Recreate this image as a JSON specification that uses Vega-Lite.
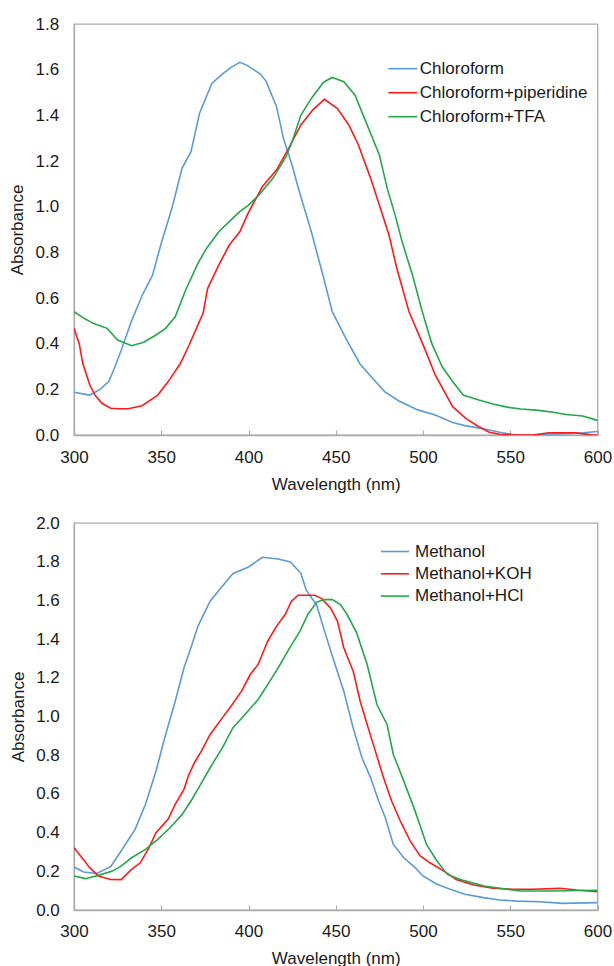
{
  "$schema": "https://vega.github.io/schema/vega-lite/v6.json",
  "background": "white",
  "padding": {"left": 7, "top": 14, "right": 0, "bottom": 0},
  "spacing": 19,
  "columns": 1,
  "datasets": {
    "chloro": [
      {"series": "Chloroform", "wavelength": 300, "absorbance": 0.187},
      {"series": "Chloroform", "wavelength": 305, "absorbance": 0.18},
      {"series": "Chloroform", "wavelength": 309, "absorbance": 0.175},
      {"series": "Chloroform", "wavelength": 315, "absorbance": 0.2},
      {"series": "Chloroform", "wavelength": 320, "absorbance": 0.235},
      {"series": "Chloroform", "wavelength": 323, "absorbance": 0.29},
      {"series": "Chloroform", "wavelength": 327, "absorbance": 0.37},
      {"series": "Chloroform", "wavelength": 333, "absorbance": 0.5},
      {"series": "Chloroform", "wavelength": 339, "absorbance": 0.61},
      {"series": "Chloroform", "wavelength": 345, "absorbance": 0.7},
      {"series": "Chloroform", "wavelength": 350, "absorbance": 0.84},
      {"series": "Chloroform", "wavelength": 356, "absorbance": 0.99},
      {"series": "Chloroform", "wavelength": 362, "absorbance": 1.17},
      {"series": "Chloroform", "wavelength": 367, "absorbance": 1.24},
      {"series": "Chloroform", "wavelength": 372, "absorbance": 1.41},
      {"series": "Chloroform", "wavelength": 379, "absorbance": 1.54},
      {"series": "Chloroform", "wavelength": 385, "absorbance": 1.58},
      {"series": "Chloroform", "wavelength": 390, "absorbance": 1.61},
      {"series": "Chloroform", "wavelength": 395, "absorbance": 1.632},
      {"series": "Chloroform", "wavelength": 399, "absorbance": 1.62},
      {"series": "Chloroform", "wavelength": 403, "absorbance": 1.6},
      {"series": "Chloroform", "wavelength": 407, "absorbance": 1.58},
      {"series": "Chloroform", "wavelength": 410, "absorbance": 1.55},
      {"series": "Chloroform", "wavelength": 416, "absorbance": 1.44},
      {"series": "Chloroform", "wavelength": 420, "absorbance": 1.3},
      {"series": "Chloroform", "wavelength": 425, "absorbance": 1.18},
      {"series": "Chloroform", "wavelength": 429, "absorbance": 1.07},
      {"series": "Chloroform", "wavelength": 436, "absorbance": 0.89},
      {"series": "Chloroform", "wavelength": 443, "absorbance": 0.69},
      {"series": "Chloroform", "wavelength": 448, "absorbance": 0.54},
      {"series": "Chloroform", "wavelength": 456, "absorbance": 0.42},
      {"series": "Chloroform", "wavelength": 464, "absorbance": 0.31},
      {"series": "Chloroform", "wavelength": 471, "absorbance": 0.25},
      {"series": "Chloroform", "wavelength": 478, "absorbance": 0.19},
      {"series": "Chloroform", "wavelength": 486, "absorbance": 0.15},
      {"series": "Chloroform", "wavelength": 497, "absorbance": 0.11},
      {"series": "Chloroform", "wavelength": 507, "absorbance": 0.088},
      {"series": "Chloroform", "wavelength": 517, "absorbance": 0.055},
      {"series": "Chloroform", "wavelength": 524, "absorbance": 0.041},
      {"series": "Chloroform", "wavelength": 536, "absorbance": 0.025},
      {"series": "Chloroform", "wavelength": 544, "absorbance": 0.012},
      {"series": "Chloroform", "wavelength": 551, "absorbance": 0.003},
      {"series": "Chloroform", "wavelength": 556, "absorbance": 0.0},
      {"series": "Chloroform", "wavelength": 563, "absorbance": 0.0},
      {"series": "Chloroform", "wavelength": 572, "absorbance": 0.004},
      {"series": "Chloroform", "wavelength": 582, "absorbance": 0.006},
      {"series": "Chloroform", "wavelength": 592, "absorbance": 0.01},
      {"series": "Chloroform", "wavelength": 600, "absorbance": 0.015},

      {"series": "Chloroform+piperidine", "wavelength": 300, "absorbance": 0.467},
      {"series": "Chloroform+piperidine", "wavelength": 303, "absorbance": 0.4},
      {"series": "Chloroform+piperidine", "wavelength": 305, "absorbance": 0.314},
      {"series": "Chloroform+piperidine", "wavelength": 309, "absorbance": 0.22},
      {"series": "Chloroform+piperidine", "wavelength": 312, "absorbance": 0.175},
      {"series": "Chloroform+piperidine", "wavelength": 316, "absorbance": 0.139},
      {"series": "Chloroform+piperidine", "wavelength": 321, "absorbance": 0.117},
      {"series": "Chloroform+piperidine", "wavelength": 326, "absorbance": 0.115},
      {"series": "Chloroform+piperidine", "wavelength": 331, "absorbance": 0.115},
      {"series": "Chloroform+piperidine", "wavelength": 339, "absorbance": 0.128},
      {"series": "Chloroform+piperidine", "wavelength": 348, "absorbance": 0.175},
      {"series": "Chloroform+piperidine", "wavelength": 354, "absorbance": 0.234},
      {"series": "Chloroform+piperidine", "wavelength": 361, "absorbance": 0.314},
      {"series": "Chloroform+piperidine", "wavelength": 366, "absorbance": 0.394},
      {"series": "Chloroform+piperidine", "wavelength": 371, "absorbance": 0.482},
      {"series": "Chloroform+piperidine", "wavelength": 374, "absorbance": 0.533},
      {"series": "Chloroform+piperidine", "wavelength": 376.5, "absorbance": 0.64},
      {"series": "Chloroform+piperidine", "wavelength": 383, "absorbance": 0.745},
      {"series": "Chloroform+piperidine", "wavelength": 389, "absorbance": 0.832},
      {"series": "Chloroform+piperidine", "wavelength": 395, "absorbance": 0.89},
      {"series": "Chloroform+piperidine", "wavelength": 400, "absorbance": 0.975},
      {"series": "Chloroform+piperidine", "wavelength": 408, "absorbance": 1.088},
      {"series": "Chloroform+piperidine", "wavelength": 416, "absorbance": 1.16},
      {"series": "Chloroform+piperidine", "wavelength": 423, "absorbance": 1.255},
      {"series": "Chloroform+piperidine", "wavelength": 430, "absorbance": 1.358},
      {"series": "Chloroform+piperidine", "wavelength": 437, "absorbance": 1.425},
      {"series": "Chloroform+piperidine", "wavelength": 443.5, "absorbance": 1.47},
      {"series": "Chloroform+piperidine", "wavelength": 451, "absorbance": 1.43},
      {"series": "Chloroform+piperidine", "wavelength": 457.5, "absorbance": 1.358},
      {"series": "Chloroform+piperidine", "wavelength": 463, "absorbance": 1.27},
      {"series": "Chloroform+piperidine", "wavelength": 470, "absorbance": 1.124},
      {"series": "Chloroform+piperidine", "wavelength": 475, "absorbance": 1.007},
      {"series": "Chloroform+piperidine", "wavelength": 480.5, "absorbance": 0.876},
      {"series": "Chloroform+piperidine", "wavelength": 485, "absorbance": 0.73},
      {"series": "Chloroform+piperidine", "wavelength": 492, "absorbance": 0.54},
      {"series": "Chloroform+piperidine", "wavelength": 500.5, "absorbance": 0.387},
      {"series": "Chloroform+piperidine", "wavelength": 507, "absorbance": 0.263},
      {"series": "Chloroform+piperidine", "wavelength": 517, "absorbance": 0.124},
      {"series": "Chloroform+piperidine", "wavelength": 524.5, "absorbance": 0.073},
      {"series": "Chloroform+piperidine", "wavelength": 532, "absorbance": 0.036},
      {"series": "Chloroform+piperidine", "wavelength": 538, "absorbance": 0.012},
      {"series": "Chloroform+piperidine", "wavelength": 544, "absorbance": 0.003},
      {"series": "Chloroform+piperidine", "wavelength": 551, "absorbance": 0.0},
      {"series": "Chloroform+piperidine", "wavelength": 563, "absorbance": 0.0},
      {"series": "Chloroform+piperidine", "wavelength": 572, "absorbance": 0.01},
      {"series": "Chloroform+piperidine", "wavelength": 587, "absorbance": 0.01},
      {"series": "Chloroform+piperidine", "wavelength": 593.5, "absorbance": 0.004},
      {"series": "Chloroform+piperidine", "wavelength": 597, "absorbance": 0.0},
      {"series": "Chloroform+piperidine", "wavelength": 600, "absorbance": 0.0},

      {"series": "Chloroform+TFA", "wavelength": 300, "absorbance": 0.54},
      {"series": "Chloroform+TFA", "wavelength": 306, "absorbance": 0.51},
      {"series": "Chloroform+TFA", "wavelength": 311, "absorbance": 0.489},
      {"series": "Chloroform+TFA", "wavelength": 319, "absorbance": 0.467},
      {"series": "Chloroform+TFA", "wavelength": 325, "absorbance": 0.416},
      {"series": "Chloroform+TFA", "wavelength": 333, "absorbance": 0.391},
      {"series": "Chloroform+TFA", "wavelength": 340, "absorbance": 0.406},
      {"series": "Chloroform+TFA", "wavelength": 347, "absorbance": 0.438},
      {"series": "Chloroform+TFA", "wavelength": 352.5, "absorbance": 0.467},
      {"series": "Chloroform+TFA", "wavelength": 358, "absorbance": 0.518},
      {"series": "Chloroform+TFA", "wavelength": 364, "absorbance": 0.635},
      {"series": "Chloroform+TFA", "wavelength": 371, "absorbance": 0.752},
      {"series": "Chloroform+TFA", "wavelength": 376, "absorbance": 0.818},
      {"series": "Chloroform+TFA", "wavelength": 383, "absorbance": 0.89},
      {"series": "Chloroform+TFA", "wavelength": 390, "absorbance": 0.942},
      {"series": "Chloroform+TFA", "wavelength": 395, "absorbance": 0.978},
      {"series": "Chloroform+TFA", "wavelength": 400, "absorbance": 1.007},
      {"series": "Chloroform+TFA", "wavelength": 406, "absorbance": 1.051},
      {"series": "Chloroform+TFA", "wavelength": 414, "absorbance": 1.124},
      {"series": "Chloroform+TFA", "wavelength": 421.5, "absorbance": 1.219},
      {"series": "Chloroform+TFA", "wavelength": 425, "absorbance": 1.285},
      {"series": "Chloroform+TFA", "wavelength": 430, "absorbance": 1.4},
      {"series": "Chloroform+TFA", "wavelength": 436, "absorbance": 1.474},
      {"series": "Chloroform+TFA", "wavelength": 443, "absorbance": 1.545},
      {"series": "Chloroform+TFA", "wavelength": 448, "absorbance": 1.566},
      {"series": "Chloroform+TFA", "wavelength": 454.6, "absorbance": 1.547},
      {"series": "Chloroform+TFA", "wavelength": 461, "absorbance": 1.489},
      {"series": "Chloroform+TFA", "wavelength": 468, "absorbance": 1.358},
      {"series": "Chloroform+TFA", "wavelength": 475, "absorbance": 1.226},
      {"series": "Chloroform+TFA", "wavelength": 479.5, "absorbance": 1.08},
      {"series": "Chloroform+TFA", "wavelength": 484, "absorbance": 0.964},
      {"series": "Chloroform+TFA", "wavelength": 488, "absorbance": 0.847},
      {"series": "Chloroform+TFA", "wavelength": 494, "absorbance": 0.7},
      {"series": "Chloroform+TFA", "wavelength": 499.6, "absorbance": 0.54},
      {"series": "Chloroform+TFA", "wavelength": 505, "absorbance": 0.401},
      {"series": "Chloroform+TFA", "wavelength": 511, "absorbance": 0.299},
      {"series": "Chloroform+TFA", "wavelength": 517, "absorbance": 0.234},
      {"series": "Chloroform+TFA", "wavelength": 523, "absorbance": 0.175},
      {"series": "Chloroform+TFA", "wavelength": 532, "absorbance": 0.153},
      {"series": "Chloroform+TFA", "wavelength": 540, "absorbance": 0.136},
      {"series": "Chloroform+TFA", "wavelength": 549, "absorbance": 0.121},
      {"series": "Chloroform+TFA", "wavelength": 556, "absorbance": 0.114},
      {"series": "Chloroform+TFA", "wavelength": 565, "absorbance": 0.109},
      {"series": "Chloroform+TFA", "wavelength": 574.5, "absorbance": 0.1},
      {"series": "Chloroform+TFA", "wavelength": 582, "absorbance": 0.09},
      {"series": "Chloroform+TFA", "wavelength": 591.6, "absorbance": 0.083},
      {"series": "Chloroform+TFA", "wavelength": 600, "absorbance": 0.064}
    ],
    "meth": [
      {"series": "Methanol", "wavelength": 300, "absorbance": 0.222},
      {"series": "Methanol", "wavelength": 305.5, "absorbance": 0.196},
      {"series": "Methanol", "wavelength": 313, "absorbance": 0.189},
      {"series": "Methanol", "wavelength": 321, "absorbance": 0.224},
      {"series": "Methanol", "wavelength": 327, "absorbance": 0.305},
      {"series": "Methanol", "wavelength": 335, "absorbance": 0.417},
      {"series": "Methanol", "wavelength": 341, "absorbance": 0.546},
      {"series": "Methanol", "wavelength": 347, "absorbance": 0.718},
      {"series": "Methanol", "wavelength": 352, "absorbance": 0.89},
      {"series": "Methanol", "wavelength": 358, "absorbance": 1.079},
      {"series": "Methanol", "wavelength": 363, "absorbance": 1.251},
      {"series": "Methanol", "wavelength": 367, "absorbance": 1.355},
      {"series": "Methanol", "wavelength": 371, "absorbance": 1.466},
      {"series": "Methanol", "wavelength": 378, "absorbance": 1.596},
      {"series": "Methanol", "wavelength": 385, "absorbance": 1.673},
      {"series": "Methanol", "wavelength": 391, "absorbance": 1.738},
      {"series": "Methanol", "wavelength": 400, "absorbance": 1.773},
      {"series": "Methanol", "wavelength": 408, "absorbance": 1.823},
      {"series": "Methanol", "wavelength": 417, "absorbance": 1.814},
      {"series": "Methanol", "wavelength": 424, "absorbance": 1.799},
      {"series": "Methanol", "wavelength": 430, "absorbance": 1.74},
      {"series": "Methanol", "wavelength": 433, "absorbance": 1.656},
      {"series": "Methanol", "wavelength": 435.5, "absorbance": 1.621},
      {"series": "Methanol", "wavelength": 439, "absorbance": 1.578},
      {"series": "Methanol", "wavelength": 443, "absorbance": 1.458},
      {"series": "Methanol", "wavelength": 449, "absorbance": 1.286},
      {"series": "Methanol", "wavelength": 454.6, "absorbance": 1.131},
      {"series": "Methanol", "wavelength": 460, "absorbance": 0.941},
      {"series": "Methanol", "wavelength": 465, "absorbance": 0.787},
      {"series": "Methanol", "wavelength": 470, "absorbance": 0.683},
      {"series": "Methanol", "wavelength": 474.6, "absorbance": 0.563},
      {"series": "Methanol", "wavelength": 478.4, "absorbance": 0.477},
      {"series": "Methanol", "wavelength": 483, "absorbance": 0.339},
      {"series": "Methanol", "wavelength": 489, "absorbance": 0.27},
      {"series": "Methanol", "wavelength": 495.5, "absorbance": 0.219},
      {"series": "Methanol", "wavelength": 500, "absorbance": 0.176},
      {"series": "Methanol", "wavelength": 508, "absorbance": 0.133},
      {"series": "Methanol", "wavelength": 515.6, "absorbance": 0.107},
      {"series": "Methanol", "wavelength": 524, "absorbance": 0.081},
      {"series": "Methanol", "wavelength": 534.6, "absorbance": 0.064},
      {"series": "Methanol", "wavelength": 544, "absorbance": 0.052},
      {"series": "Methanol", "wavelength": 554, "absorbance": 0.046},
      {"series": "Methanol", "wavelength": 567, "absorbance": 0.043},
      {"series": "Methanol", "wavelength": 580, "absorbance": 0.034},
      {"series": "Methanol", "wavelength": 600, "absorbance": 0.038},

      {"series": "Methanol+KOH", "wavelength": 300, "absorbance": 0.322},
      {"series": "Methanol+KOH", "wavelength": 304.6, "absorbance": 0.27},
      {"series": "Methanol+KOH", "wavelength": 309, "absorbance": 0.219},
      {"series": "Methanol+KOH", "wavelength": 314, "absorbance": 0.176},
      {"series": "Methanol+KOH", "wavelength": 321, "absorbance": 0.158},
      {"series": "Methanol+KOH", "wavelength": 327, "absorbance": 0.157},
      {"series": "Methanol+KOH", "wavelength": 333, "absorbance": 0.21},
      {"series": "Methanol+KOH", "wavelength": 338, "absorbance": 0.244},
      {"series": "Methanol+KOH", "wavelength": 343, "absorbance": 0.322},
      {"series": "Methanol+KOH", "wavelength": 347, "absorbance": 0.4},
      {"series": "Methanol+KOH", "wavelength": 351, "absorbance": 0.44},
      {"series": "Methanol+KOH", "wavelength": 354, "absorbance": 0.47},
      {"series": "Methanol+KOH", "wavelength": 358, "absorbance": 0.546},
      {"series": "Methanol+KOH", "wavelength": 363, "absorbance": 0.623},
      {"series": "Methanol+KOH", "wavelength": 365.5, "absorbance": 0.692},
      {"series": "Methanol+KOH", "wavelength": 369, "absorbance": 0.761},
      {"series": "Methanol+KOH", "wavelength": 373, "absorbance": 0.821},
      {"series": "Methanol+KOH", "wavelength": 378, "absorbance": 0.907},
      {"series": "Methanol+KOH", "wavelength": 385, "absorbance": 0.993},
      {"series": "Methanol+KOH", "wavelength": 390, "absorbance": 1.053},
      {"series": "Methanol+KOH", "wavelength": 396, "absorbance": 1.131},
      {"series": "Methanol+KOH", "wavelength": 401, "absorbance": 1.217},
      {"series": "Methanol+KOH", "wavelength": 405.5, "absorbance": 1.269},
      {"series": "Methanol+KOH", "wavelength": 411, "absorbance": 1.389},
      {"series": "Methanol+KOH", "wavelength": 416, "absorbance": 1.466},
      {"series": "Methanol+KOH", "wavelength": 421, "absorbance": 1.527},
      {"series": "Methanol+KOH", "wavelength": 424.6, "absorbance": 1.596},
      {"series": "Methanol+KOH", "wavelength": 428.4, "absorbance": 1.627},
      {"series": "Methanol+KOH", "wavelength": 438, "absorbance": 1.627},
      {"series": "Methanol+KOH", "wavelength": 442, "absorbance": 1.609},
      {"series": "Methanol+KOH", "wavelength": 447, "absorbance": 1.561},
      {"series": "Methanol+KOH", "wavelength": 451, "absorbance": 1.492},
      {"series": "Methanol+KOH", "wavelength": 454.6, "absorbance": 1.355},
      {"series": "Methanol+KOH", "wavelength": 460, "absorbance": 1.234},
      {"series": "Methanol+KOH", "wavelength": 464, "absorbance": 1.079},
      {"series": "Methanol+KOH", "wavelength": 468, "absorbance": 0.959},
      {"series": "Methanol+KOH", "wavelength": 472.7, "absorbance": 0.821},
      {"series": "Methanol+KOH", "wavelength": 477.4, "absorbance": 0.683},
      {"series": "Methanol+KOH", "wavelength": 482, "absorbance": 0.563},
      {"series": "Methanol+KOH", "wavelength": 487, "absorbance": 0.46},
      {"series": "Methanol+KOH", "wavelength": 492.7, "absorbance": 0.356},
      {"series": "Methanol+KOH", "wavelength": 498.4, "absorbance": 0.279},
      {"series": "Methanol+KOH", "wavelength": 504, "absorbance": 0.244},
      {"series": "Methanol+KOH", "wavelength": 512, "absorbance": 0.201},
      {"series": "Methanol+KOH", "wavelength": 519, "absorbance": 0.158},
      {"series": "Methanol+KOH", "wavelength": 529, "absorbance": 0.129},
      {"series": "Methanol+KOH", "wavelength": 540, "absorbance": 0.112},
      {"series": "Methanol+KOH", "wavelength": 552, "absorbance": 0.107},
      {"series": "Methanol+KOH", "wavelength": 563, "absorbance": 0.107},
      {"series": "Methanol+KOH", "wavelength": 578.5, "absorbance": 0.112},
      {"series": "Methanol+KOH", "wavelength": 588, "absorbance": 0.103},
      {"series": "Methanol+KOH", "wavelength": 600, "absorbance": 0.095},

      {"series": "Methanol+HCl", "wavelength": 300, "absorbance": 0.176},
      {"series": "Methanol+HCl", "wavelength": 306.5, "absorbance": 0.162},
      {"series": "Methanol+HCl", "wavelength": 314, "absorbance": 0.179},
      {"series": "Methanol+HCl", "wavelength": 322, "absorbance": 0.201},
      {"series": "Methanol+HCl", "wavelength": 327, "absorbance": 0.227},
      {"series": "Methanol+HCl", "wavelength": 333, "absorbance": 0.27},
      {"series": "Methanol+HCl", "wavelength": 341, "absorbance": 0.313},
      {"series": "Methanol+HCl", "wavelength": 348, "absorbance": 0.365},
      {"series": "Methanol+HCl", "wavelength": 355, "absorbance": 0.425},
      {"series": "Methanol+HCl", "wavelength": 362, "absorbance": 0.494},
      {"series": "Methanol+HCl", "wavelength": 367, "absorbance": 0.563},
      {"series": "Methanol+HCl", "wavelength": 372, "absorbance": 0.64},
      {"series": "Methanol+HCl", "wavelength": 378, "absorbance": 0.735},
      {"series": "Methanol+HCl", "wavelength": 385, "absorbance": 0.838},
      {"series": "Methanol+HCl", "wavelength": 391, "absorbance": 0.941},
      {"series": "Methanol+HCl", "wavelength": 398, "absorbance": 1.01},
      {"series": "Methanol+HCl", "wavelength": 405.5, "absorbance": 1.088},
      {"series": "Methanol+HCl", "wavelength": 411, "absorbance": 1.165},
      {"series": "Methanol+HCl", "wavelength": 417, "absorbance": 1.251},
      {"series": "Methanol+HCl", "wavelength": 423, "absorbance": 1.346},
      {"series": "Methanol+HCl", "wavelength": 429.5, "absorbance": 1.441},
      {"series": "Methanol+HCl", "wavelength": 434, "absorbance": 1.527},
      {"series": "Methanol+HCl", "wavelength": 439, "absorbance": 1.59},
      {"series": "Methanol+HCl", "wavelength": 443, "absorbance": 1.604},
      {"series": "Methanol+HCl", "wavelength": 448, "absorbance": 1.604},
      {"series": "Methanol+HCl", "wavelength": 452.7, "absorbance": 1.578},
      {"series": "Methanol+HCl", "wavelength": 456.5, "absorbance": 1.527},
      {"series": "Methanol+HCl", "wavelength": 462, "absorbance": 1.432},
      {"series": "Methanol+HCl", "wavelength": 468, "absorbance": 1.269},
      {"series": "Methanol+HCl", "wavelength": 473.6, "absorbance": 1.062},
      {"series": "Methanol+HCl", "wavelength": 479.4, "absorbance": 0.959},
      {"series": "Methanol+HCl", "wavelength": 483, "absorbance": 0.804},
      {"series": "Methanol+HCl", "wavelength": 489, "absorbance": 0.666},
      {"series": "Methanol+HCl", "wavelength": 495.5, "absorbance": 0.511},
      {"series": "Methanol+HCl", "wavelength": 502, "absorbance": 0.339},
      {"series": "Methanol+HCl", "wavelength": 508, "absorbance": 0.253},
      {"series": "Methanol+HCl", "wavelength": 514, "absorbance": 0.184},
      {"series": "Methanol+HCl", "wavelength": 523, "absorbance": 0.153},
      {"series": "Methanol+HCl", "wavelength": 535, "absorbance": 0.124},
      {"series": "Methanol+HCl", "wavelength": 544, "absorbance": 0.112},
      {"series": "Methanol+HCl", "wavelength": 556, "absorbance": 0.098},
      {"series": "Methanol+HCl", "wavelength": 573, "absorbance": 0.098},
      {"series": "Methanol+HCl", "wavelength": 600, "absorbance": 0.102}
    ]
  },
  "resolve": {"scale": {"color": "independent", "x": "independent", "y": "independent"}, "legend": {"color": "independent"}},
  "concat": [
    {
      "width": 523.5,
      "height": 411,
      "data": {"name": "chloro"},
      "mark": {"type": "line", "strokeWidth": 1.6, "clip": true},
      "encoding": {
        "x": {"field": "wavelength", "type": "quantitative", "title": "Wavelength (nm)",
              "scale": {"domain": [300, 600], "nice": false, "zero": false},
              "axis": {"values": [300, 350, 400, 450, 500, 550, 600], "format": "d", "ticks": true, "tickSize": -5, "labelPadding": 19.4, "titlePadding": 11, "labelFlush": false}},
        "y": {"field": "absorbance", "type": "quantitative", "title": "Absorbance",
              "scale": {"domain": [0, 1.8], "nice": false},
              "axis": {"values": [0, 0.2, 0.4, 0.6, 0.8, 1.0, 1.2, 1.4, 1.6, 1.8], "format": ".1f", "ticks": false, "labelPadding": 15.3, "titlePadding": 8.6, "labelFlush": false}},
        "color": {"field": "series", "type": "nominal",
                  "scale": {"domain": ["Chloroform", "Chloroform+piperidine", "Chloroform+TFA"], "range": ["#5b9bd5", "#ff1a1a", "#22a84a"]},
                  "legend": {"title": null, "orient": "none", "legendX": 320.3, "legendY": 36.2, "symbolType": "M-3,0H3", "symbolSize": 93, "symbolStrokeWidth": 1.6, "labelFontSize": 17, "labelLimit": 0, "rowPadding": 6, "labelOffset": 8.5, "padding": 0}}
      }
    },
    {
      "width": 523.5,
      "height": 387,
      "data": {"name": "meth"},
      "mark": {"type": "line", "strokeWidth": 1.6, "clip": true},
      "encoding": {
        "x": {"field": "wavelength", "type": "quantitative", "title": "Wavelength (nm)",
              "scale": {"domain": [300, 600], "nice": false, "zero": false},
              "axis": {"values": [300, 350, 400, 450, 500, 550, 600], "format": "d", "ticks": true, "tickSize": -5, "labelPadding": 18.7, "titlePadding": 11, "labelFlush": false}},
        "y": {"field": "absorbance", "type": "quantitative", "title": "Absorbance",
              "scale": {"domain": [0, 2.0], "nice": false},
              "axis": {"values": [0, 0.2, 0.4, 0.6, 0.8, 1.0, 1.2, 1.4, 1.6, 1.8, 2.0], "format": ".1f", "ticks": false, "labelPadding": 14.7, "titlePadding": 8.3, "labelFlush": false}},
        "color": {"field": "series", "type": "nominal",
                  "scale": {"domain": ["Methanol", "Methanol+KOH", "Methanol+HCl"], "range": ["#5b9bd5", "#ff1a1a", "#22a84a"]},
                  "legend": {"title": null, "orient": "none", "legendX": 312.5, "legendY": 20, "symbolType": "M-3,0H3", "symbolSize": 87, "symbolStrokeWidth": 1.6, "labelFontSize": 17, "labelLimit": 0, "rowPadding": 4.3, "labelOffset": 11.5, "padding": 0}}
      }
    }
  ],
  "config": {
    "font": "Liberation Sans",
    "view": {"stroke": "#aaaaaa", "strokeWidth": 1.3},
    "axis": {"labelFont": "Liberation Sans", "titleFont": "Liberation Sans", "labelFontSize": 17, "titleFontSize": 17, "titleFontWeight": "normal", "labelColor": "#1a1a1a", "titleColor": "#1a1a1a", "domainColor": "#aaaaaa", "domainWidth": 1.3, "tickColor": "#aaaaaa", "tickWidth": 1.2, "grid": false},
    "legend": {"labelFont": "Liberation Sans", "labelColor": "#1a1a1a"}
  }
}
